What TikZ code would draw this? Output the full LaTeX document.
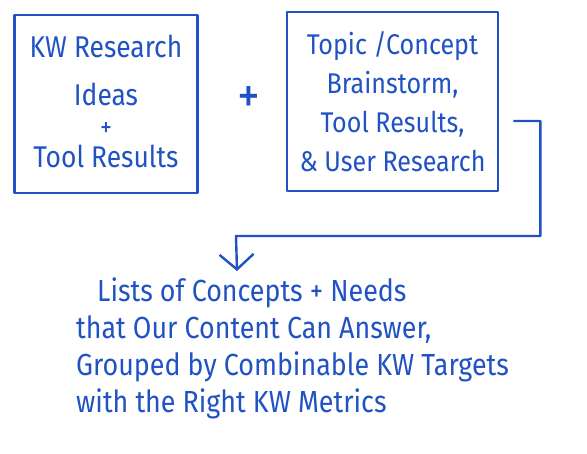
\documentclass[tikz,border=0pt]{standalone}
\usepackage{fontspec}
\setmainfont{Fira Sans}[FakeStretch=0.88]
\usetikzlibrary{arrows.meta}
\definecolor{marker}{RGB}{32,82,196}
\tikzset{
  board/.style={draw=marker, line width=2.6pt, line join=round, inner sep=0pt},
  handtext/.style={text=marker, font=\fontsize{30}{30}\selectfont, inner sep=0pt},
  conn/.style={draw=marker, line width=2.4pt, line join=round,
    -{Straight Barb[length=15pt,width=34pt,line width=2.4pt]}}
}
\begin{document}
\begin{tikzpicture}[x=1pt,y=-1pt]
\useasboundingbox (0,0) rectangle (587,453);
\fill[white] (0,0) rectangle (587,453);
% left box
\node[board, minimum width=183pt, minimum height=178pt] (b1) at (106,104) {};
\node[handtext, align=center] (b1text) at (106,101)
  {KW Research\\[18pt]Ideas\\[1pt]{\fontsize{27}{30}\selectfont+}\\[1pt]Tool Results};
% plus sign
\node[handtext, font=\fontsize{52}{52}\selectfont] (plus) at (249,100) {+};
% right box
\node[board, handtext, minimum width=211pt, minimum height=179pt, align=center,
  font=\fontsize{28.5}{39}\selectfont]
  (b2) at (392.5,101.5) {Topic /Concept\\Brainstorm,\\Tool Results,\\\& User Research};
% result text
\node[handtext, anchor=west, align=left, font=\fontsize{30.5}{37}\selectfont]
  (res) at (76,348) {\hspace{21pt}Lists of Concepts + Needs\\that Our Content Can Answer,\\Grouped by Combinable KW Targets\\with the Right KW Metrics};
% connector
\coordinate (turn) at (236,236);
\coordinate (tip) at (237,271);
\draw[conn] ([xshift=14pt,yshift=-19.5pt]b2.east) -- ++(27pt,0) |- (turn) -- (tip);
\end{tikzpicture}
\end{document}
